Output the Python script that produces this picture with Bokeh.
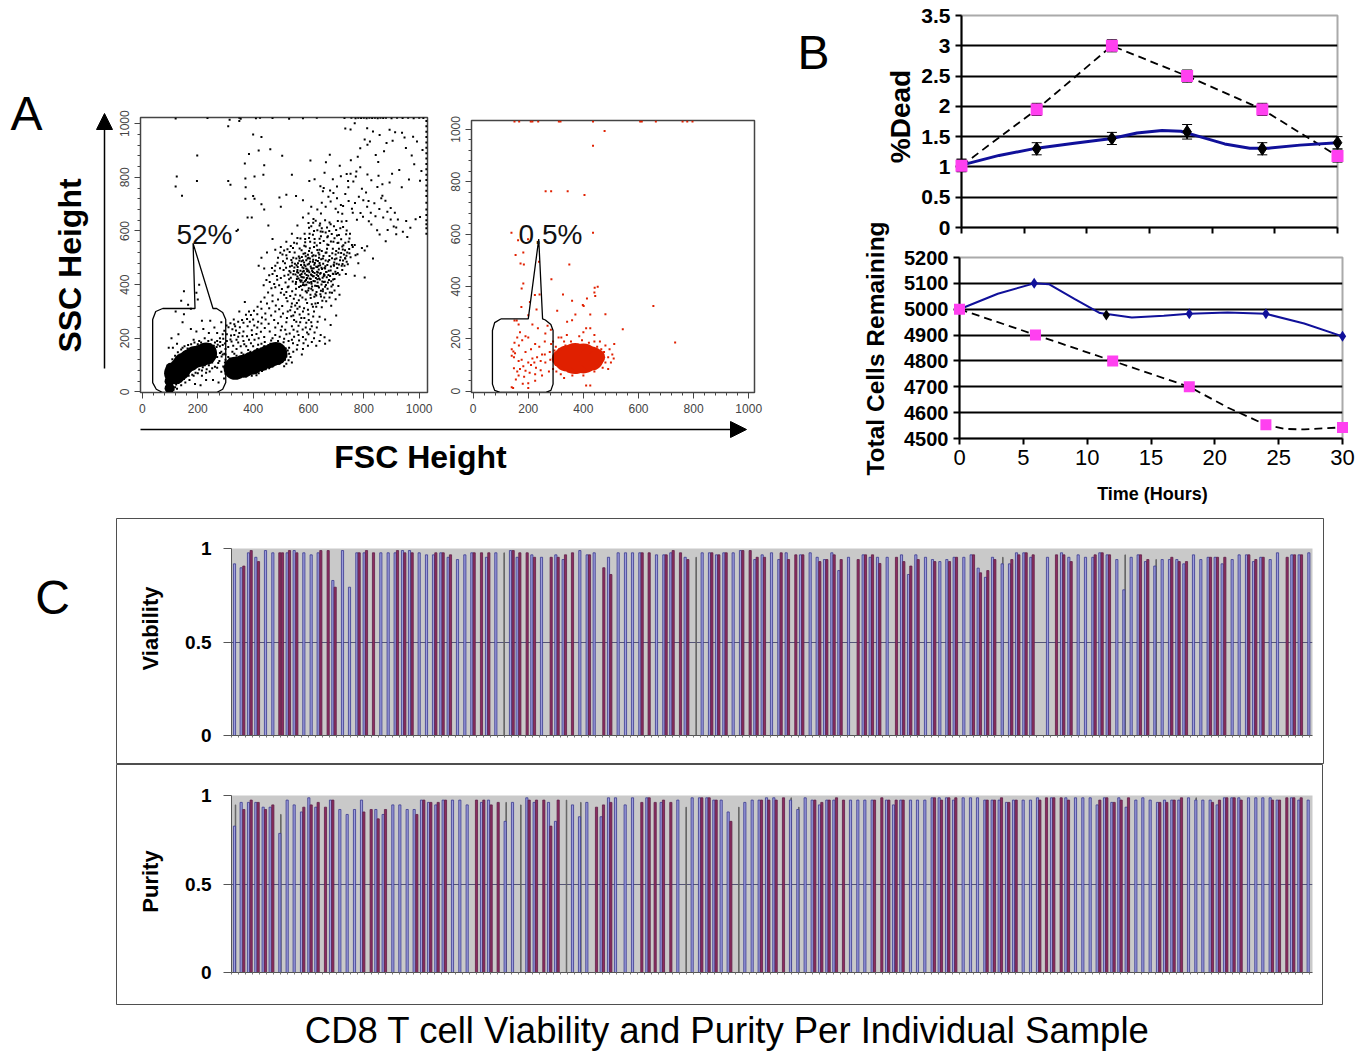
from math import pi
from bokeh.embed import file_html
from bokeh.resources import INLINE
from bokeh.plotting import figure
from bokeh.layouts import column
from bokeh.models import Range1d, Label, Arrow, NormalHead, FixedTicker, Whisker, ColumnDataSource

# ---------- Panel A data: (FSC, SSC) events ----------
black_dense_small = [(98,14),(98,40),(100,66),(102,90)]
black_dense_a = [(118,70),(135,85),(150,105),(170,118),(190,130),(210,135),(230,143)]
black_dense_b = [(335,88),(365,96),(395,107),(425,120),(455,132),(482,143)]
black_top = [(120,1019),(235,1021),(315,1015),(350,1022),(355,1018),(410,1020),(425,1022),(470,1021),(530,1018),(580,1020),(630,1022),(730,1021),(755,1022),(770,1020),(780,1022),(790,1021),(800,1022),(810,1020),(820,1022),(830,1021),(840,1022),(850,1020),(860,1022),(870,1021),(880,1022),(900,1020),(920,1022),(940,1021),(960,1022),(980,1020),(1000,1022),(1015,1021)]
black_right = [(1026,1010),(1026,990),(1026,970),(1026,950),(1026,930),(1026,910),(1026,890),(1026,870),(1026,850),(1026,830),(1026,810),(1026,790),(1026,770),(1026,750),(1026,730),(1026,705),(1026,680),(1026,660),(1026,640),(1026,625),(1026,610),(1026,590)]
black_spray = [(198,881),(124,803),(120,766),(143,731),(197,786),(310,786),(318,772),(370,852),(385,887),(420,900),(405,803),(437,810),(372,796),(373,763),(405,720),(430,700),(372,720),(380,650),(395,650),(440,680),(495,725),(520,735),(555,730),(580,715),(610,690),(455,620),(470,570),(500,690),(340,600),(345,605),(400,730),(440,845),(462,905),(505,880),(540,810),(430,950),(400,960),(350,1010),(310,990),(703,722),(717,697),(733,738),(744,763),(762,784),(771,803),(793,757),(808,743),(817,712),(838,703),(849,764),(867,731),(878,713),(897,686),(912,668),(923,643),(941,597),(957,578),(968,612),(987,644),(1003,652),(722,664),(737,637),(757,683),(768,704),(788,667),(797,653),(818,636),(827,624),(848,603),(857,587),(879,562),(886,604),(908,617),(917,588),(713,843),(738,812),(753,864),(778,877),(787,908),(813,921),(822,934),(843,883),(852,857),(873,897),(882,928),(904,936),(913,968),(938,966),(952,909),(973,881),(982,849),(1003,787),(1008,824),(963,792),(937,763),(928,827),(902,813),(893,781),(867,774),(853,806),(827,789),(813,811),(787,838),(773,822),(752,813),(743,786),(717,804),(703,766),(688,793),(678,751),(652,748),(643,767),(622,793),(658,817),(677,884),(663,856),(607,863),(603,786),(1012,902),(992,934),(978,951),(947,948),(893,977),(857,958),(833,971),(812,983),(803,941),(752,978),(733,982),(767,1002),(767,548),(793,537),(803,527),(812,543),(833,497),(767,433),(803,427),(757,548),(748,517),(732,498),(723,477),(777,513),(863,722),(897,643),(953,637),(917,613),(655,760),(672,728),(690,742),(648,705),(662,690),(680,710),(698,683),(707,670),(725,693),(745,712),(760,668),(775,642),(782,728),(798,715),(812,690),(825,668),(842,655),(856,682),(870,650),(885,672),(645,665),(632,680),(618,645),(600,665)]
black_c3 = [(470,440),(480,470),(490,500),(500,425),(510,455),(515,480),(520,510),(525,390),(530,420),(535,445),(540,470),(545,500),(550,520),(555,385),(555,410),(560,430),(560,455),(562,480),(565,505),(568,535),(570,360),(572,395),(575,415),(575,440),(578,465),(580,490),(582,515),(585,545),(588,570),(590,345),(590,375),(592,400),(595,425),(595,450),(597,475),(600,500),(602,525),(604,590),(606,560),(608,350),(610,385),(610,410),(612,435),(614,460),(616,485),(618,510),(620,540),(622,570),(625,330),(628,360),(630,395),(632,420),(634,445),(636,470),(638,500),(640,530),(642,555),(645,580),(648,610),(650,340),(652,375),(655,410),(658,435),(660,460),(662,490),(665,520),(668,550),(670,580),(675,600),(680,625),(685,370),(688,400),(690,440),(692,470),(695,495),(700,525),(705,555),(710,585),(715,610),(720,635),(725,490),(730,470),(735,440),(740,520),(745,560),(750,590),(760,540),(770,510),(780,480),(700,440),(710,475),(690,560),(660,640),(640,620),(620,600),(600,630),(580,650),(560,620),(540,590),(520,560),(500,540),(480,530),(450,520),(430,500),(420,470),(440,460),(460,410),(480,390),(500,370),(520,350),(540,330),(560,310),(580,300),(600,290),(620,300),(640,280),(660,270),(680,250),(700,285),(545,285),(525,300),(505,320),(490,345),(470,360),(450,330),(430,310),(415,290),(400,270),(385,300),(370,335),(350,300),(330,270),(520,260),(540,245),(560,225),(580,205),(600,215),(620,200),(640,190),(660,180),(570,260),(590,240),(610,260),(630,240),(500,280),(480,300),(465,285),(445,270),(430,255),(415,240),(395,230),(380,245),(365,225),(350,220),(335,245),(320,210),(305,215),(500,230),(520,215),(540,195),(560,175),(580,160),(480,240),(460,225),(440,205),(420,200),(405,195),(385,195),(365,190),(470,200),(490,190),(510,185),(530,165),(545,150),(520,140),(340,195),(355,170),(375,170),(400,170),(430,180),(455,175)]
black_core = [(527,437),(533,468),(538,492),(543,412),(547,451),(551,478),(553,438),(556,497),(558,421),(561,466),(563,444),(566,391),(567,489),(569,416),(571,452),(573,473),(574,429),(576,503),(577,381),(579,448),(581,407),(582,461),(583,427),(584,483),(586,398),(587,442),(588,517),(589,469),(591,417),(592,491),(593,436),(594,371),(596,456),(597,409),(598,511),(599,433),(601,387),(602,478),(603,446),(604,423),(605,497),(607,362),(608,468),(609,438),(611,403),(612,519),(613,452),(615,379),(616,431),(617,493),(618,414),(619,461),(621,355),(622,443),(623,481),(624,396),(626,508),(627,425),(628,467),(629,373),(631,448),(632,529),(633,408),(634,488),(635,432),(637,456),(638,389),(639,512),(641,419),(642,472),(643,364),(644,443),(646,495),(647,401),(648,525),(649,458),(651,426),(652,383),(653,478),(654,507),(656,439),(657,352),(659,411),(661,469),(663,399),(664,447),(666,428),(667,534),(669,385),(671,486),(673,452),(674,417),(676,507),(678,432),(681,468),(683,393),(686,517),(689,419),(693,483),(697,448),(701,497),(704,462),(708,519),(712,437),(716,502),(720,470),(724,531),(728,512),(733,497),(738,485),(575,528),(590,542),(605,536),(622,556),(640,571),(655,563),(672,548),(688,534),(703,583),(718,569),(733,556),(586,590),(602,612),(617,631),(632,603),(651,597),(667,613),(684,589),(700,604),(513,433),(519,463),(508,487),(497,461),(506,512),(522,497),(532,522),(544,537),(558,553),(571,572),(517,408),(528,393),(541,375),(553,362),(565,342),(578,352),(595,332),(612,327),(628,318),(645,356),(662,368),(676,352),(694,378),(708,395),(520,373),(534,358),(547,347),(558,332),(534,305),(551,297),(568,289),(585,276),(601,268),(617,281),(633,262),(548,268),(564,247),(579,233),(595,222),(612,245),(487,418),(476,402),(466,387),(454,371),(441,352),(428,336),(416,318),(403,303),(392,287),(378,272),(365,258),(352,241),(338,229),(325,234),(311,241),(296,228)]
black_core2 = [(531,451),(536,426),(541,483),(545,439),(549,464),(554,402),(557,472),(559,447),(564,423),(568,498),(570,436),(572,411),(575,487),(578,428),(580,399),(583,451),(585,473),(587,413),(590,506),(592,459),(594,424),(597,497),(599,378),(600,452),(603,407),(606,485),(608,421),(610,461),(613,393),(614,506),(616,447),(619,431),(621,474),(623,413),(625,364),(627,491),(630,437),(632,466),(635,394),(636,519),(638,423),(640,481),(642,441),(645,377),(647,463),(650,412),(652,497),(655,431),(658,462),(660,392),(662,519),(665,447),(668,473),(670,408),(672,436),(675,492),(677,371),(680,453),(682,413),(685,498),(688,441),(691,474),(694,421),(698,512),(702,478),(706,443),(710,534),(714,491),(718,518),(722,455),(726,547),(732,528),(737,508),(742,476),(747,533),(752,502),(668,577),(681,561),(694,573),(708,556),(722,542),(736,588),(748,572),(662,594),(676,632),(692,618),(706,637),(725,615),(738,602),(588,558),(602,574),(616,586),(630,546),(644,598),(610,618),(626,638),(642,628),(560,574),(548,556),(536,544),(524,532),(512,527),(498,519),(488,482),(478,452),(468,462),(458,435),(448,417),(438,398),(486,432),(494,398),(504,384),(512,362),(524,338),(538,318),(552,322),(568,318),(584,312),(598,306),(616,318),(634,332),(648,316),(664,338),(682,321),(698,346),(712,362),(538,282),(522,276),(508,292),(494,308),(482,322),(470,338),(458,312),(444,292),(432,278),(418,262),(404,248),(388,262),(374,288),(360,268),(346,262),(332,252),(318,256),(304,248),(516,232),(532,218),(548,206),(566,192),(582,182),(598,172),(612,186),(628,172),(476,268),(490,256),(504,244),(456,254),(442,238),(428,224),(412,216),(396,212),(378,208),(362,208),(346,206),(332,212),(318,196),(480,212),(496,206),(512,198),(528,190),(544,182),(558,158),(576,140),(590,196),(564,212),(546,232),(574,276),(556,262),(592,258),(606,234),(622,222),(644,212),(658,204),(676,192)]
black_gate = [(150,375),(140,340),(165,325),(175,310),(205,400),(200,345),(195,370),(215,265),(245,265),(260,240),(240,220),(270,220),(285,260),(150,290),(120,300),(145,260),(175,235),(195,225),(220,235),(130,215),(105,200),(95,165),(110,165),(125,180),(145,165),(165,175),(185,195),(205,190),(225,200),(250,195),(270,190),(290,175),(300,160),(285,150),(270,130),(262,160),(278,115),(292,95),(285,75),(270,90),(252,110),(240,100),(232,85),(215,80),(200,70),(185,60),(170,45),(155,35),(140,25),(125,12),(190,30),(210,25),(230,45),(255,45),(275,35),(295,50),(215,60),(300,120),(310,130),(325,150),(340,160),(355,55),(375,58),(395,60),(420,70),(445,85),(470,95),(495,105),(515,120),(510,150),(495,165),(470,175),(440,170),(415,160),(390,150),(365,140),(340,135),(315,125),(305,75),(325,60),(345,65),(520,105),(535,130),(525,155),(200,130),(215,115),(225,100),(160,130),(130,120),(115,110),(540,110),(290,215),(305,190),(280,200),(170,155),(150,145),(250,150),(265,145),(280,170),(108,122),(118,135),(128,148),(140,158),(152,170),(163,162),(176,178),(188,184),(200,178),(212,184),(224,176),(238,190),(246,178),(258,172),(268,168),(281,186),(292,198),(298,181),(272,176),(262,184),(286,132),(296,142),(274,108),(262,94),(252,88),(243,76),(230,72),(218,92),(205,84),(192,72),(180,64),(167,60),(150,48),(138,40),(122,28),(112,8),(118,18),(130,33),(300,68),(312,82),(320,68),(333,58),(348,52),(362,62),(384,68),(403,72),(412,62),(432,78),(458,88),(482,102),(505,112),(528,118),(520,132),(512,96),(530,142),(518,162),(502,172),(482,168),(462,180),(448,166),(428,162),(408,152),(382,156),(358,146),(332,142),(312,112),(304,100),(296,92),(300,140),(328,172),(346,184),(368,178),(392,182),(418,176),(442,186),(465,192),(488,178),(298,110),(310,168),(322,188),(290,140),(280,145)]
red_dense = [(318,125),(340,125),(370,125),(400,125),(430,125),(450,130)]
red_dense_size = [18, 26, 31, 30, 24, 16]
red_top = [(150,1030),(167,1030),(209,1030),(215,1030),(236,1030),(311,1030),(317,1030),(435,1030),(606,1030),(612,1030),(663,1030),(760,1030),(777,1030),(796,1030)]
red_spread = [(477,994),(435,938),(263,764),(283,764),(343,764),(404,749),(139,605),(435,605),(163,577),(199,580),(154,520),(182,530),(172,488),(184,484),(239,494),(349,484),(284,428),(182,411),(176,392),(224,367),(241,369),(326,369),(359,345),(441,395),(452,399),(440,377),(443,364),(413,354),(398,329),(401,325),(654,325),(175,322),(206,341),(230,312),(305,307),(480,294),(425,293),(371,293),(359,271),(341,265),(543,237),(733,186)]
red_gate = [(150,270),(158,270),(165,255),(200,290),(215,255),(235,240),(270,250),(282,235),(262,220),(170,225),(190,210),(160,205),(178,195),(200,205),(150,185),(166,175),(140,160),(146,152),(152,145),(148,130),(140,135),(165,115),(176,120),(190,150),(210,160),(225,180),(240,170),(260,190),(283,180),(300,170),(278,150),(250,140),(232,130),(215,125),(200,110),(182,95),(170,85),(190,78),(210,100),(228,90),(245,80),(262,110),(280,120),(295,135),(300,100),(275,75),(250,60),(225,65),(205,70),(185,55),(165,60),(155,45),(140,15),(145,12),(200,30),(200,12),(225,40),(180,28),(160,75),(148,88),(260,140),(245,115),(222,110),(295,155),(290,85),(310,205),(320,205),(340,215),(330,190),(290,190),(385,210),(400,225),(410,240),(425,240),(440,215),(395,195),(410,22),(425,22),(330,50),(360,60),(400,60),(440,75),(470,90),(490,85),(500,110),(510,125),(505,140),(495,160),(480,175),(460,190),(440,190),(420,185),(355,190),(335,175),(480,110),(470,120),(490,130),(475,150),(512,180),(450,170),(465,160),(300,140),(312,160),(302,75),(318,65),(345,75),(375,70),(415,85)]

# ---------- Panel B data ----------
hours = [0, 6, 12, 18, 24, 30]
dead_control = [1.03, 1.30, 1.47, 1.58, 1.30, 1.40]
dead_control_err = [0.10, 0.10, 0.10, 0.12, 0.10, 0.10]
dead_treated = [1.02, 1.95, 3.0, 2.5, 1.95, 1.18]
dead_treated_err = [0.10, 0.10, 0.10, 0.10, 0.10, 0.10]
dead_control_curve_x = [0, 3, 6, 9, 12, 14, 16, 17.5, 19, 21, 23, 24.5, 27, 30]
dead_control_curve_y = [1.03, 1.19, 1.31, 1.39, 1.47, 1.56, 1.60, 1.59, 1.50, 1.38, 1.31, 1.31, 1.36, 1.40]
dead_ticks = [0, 0.5, 1, 1.5, 2, 2.5, 3, 3.5]
dead_labels = ["0", "0.5", "1", "1.5", "2", "2.5", "3", "3.5"]
cells_control_x = [0, 5.85, 11.5, 18, 24, 30]
cells_control = [5000, 5100, 4978, 4982, 4982, 4895]
cells_treated_x = [0, 5.95, 12, 18, 24, 30]
cells_treated = [5000, 4900, 4800, 4700, 4553, 4543]
cells_control_curve_x = [0, 3, 5.85, 7, 9, 11, 13.5, 16, 18, 21, 24, 27, 30]
cells_control_curve_y = [5000, 5060, 5100, 5097, 5040, 4985, 4968, 4975, 4982, 4987, 4982, 4945, 4895]
cells_treated_curve_x = [0, 6, 12, 18, 21, 24, 25.5, 27, 30]
cells_treated_curve_y = [5000, 4900, 4800, 4700, 4620, 4553, 4537, 4535, 4543]
cells_ticks = [4500, 4600, 4700, 4800, 4900, 5000, 5100, 5200]
hour_ticks = [0, 5, 10, 15, 20, 25, 30]

# ---------- Panel C data: (sample position, value), four stretches of the sample axis ----------
stretch_base = [0, 810, 1620, 2460]
viab_blue = [
 [(42,.918),(62,.897),(84,.977),(106,.953),(135,.989),(157,.977),(200,.977),(221,.989),(250,.977),(272,.966),(293,.977),(337,.829),(366,.989),(387,.793),(409,.977),(431,.977),(481,.977),(503,.977),(524,.977),(546,.989),(567,.989),(596,.977),(618,.966),(639,.966),(661,.977),(683,.953),(711,.941),(733,.966),(754,.977),(798,.953),(826,.977)],
 [(60,.989),(80,.953),(124,.966),(153,.953),(196,.966),(218,.941),(268,.989),(290,.966),(311,.977),(354,.953),(383,.977),(405,.977),(426,.977),(448,.977),(498,.966),(520,.966),(541,.977),(584,.953),(635,.977),(657,.977),(678,.966),(700,.977),(728,.977),(750,.989),(793,.941)],
 [(5,.966),(33,.977),(55,.941),(77,.977),(120,.966),(149,.977),(170,.953),(192,.941),(214,.977),(235,.882),(264,.953),(308,.966),(329,.953),(351,.953),(380,.953),(423,.966),(444,.861),(466,.966),(495,.953),(516,.941),(538,.93),(559,.941),(581,.953),(610,.953),(632,.966),(653,.895),(675,.846),(696,.953),(725,.918),(747,.918),(768,.977),(790,.977),(811,.953)],
 [(21,.953),(63,.977),(85,.953),(113,.966),(135,.953),(157,.953),(178,.977),(200,.966),(229,.941),(250,.779),(272,.953),(293,.966),(315,.93),(343,.906),(365,.941),(387,.941),(409,.941),(430,.918),(459,.966),(481,.941),(503,.953),(524,.953),(545,.918),(575,.941),(596,.966),(618,.966),(639,.93),(661,.953),(689,.941),(711,.977),(754,.966),(776,.966),(805,.977)],
]
viab_red = [
 [(70,.906),(92,.989),(114,.93),(178,.977),(186,.977),(207,.989),(229,.977),(301,.989),(323,.989),(344,.793),(416,.977),(438,.989),(459,.977),(531,.989),(553,.977),(575,.977),(646,.977),(668,.977),(690,.966),(761,.977),(783,.977),(805,.977)],
 [(68,.989),(88,.977),(110,.977),(132,.953),(182,.953),(203,.953),(225,.966),(246,.977),(297,.966),(340,.897),(361,.861),(455,.977),(476,.977),(527,.966),(548,.989),(570,.977),(592,.941),(664,.977),(685,.966),(707,.977),(757,.989),(779,.989),(800,.953)],
 [(12,.953),(62,.977),(84,.941),(106,.966),(127,.966),(178,.93),(199,.941),(221,.966),(242,.941),(293,.941),(315,.966),(336,.966),(358,.92),(408,.953),(430,.93),(451,.906),(473,.941),(523,.93),(567,.93),(588,.953),(639,.966),(660,.87),(682,.882),(703,.941),(754,.941),(775,.966),(797,.977),(818,.966)],
 [(48,.966),(70,.966),(92,.93),(164,.966),(185,.977),(207,.966),(300,.966),(322,.941),(394,.953),(416,.93),(438,.93),(510,.953),(531,.953),(553,.953),(625,.966),(646,.941),(668,.953),(740,.953),(762,.966),(783,.966)],
]
viab_thin = [[], [(41,.977),(617,.953)], [(727,.953)], [(254,.966),(347,.941)]]
pur_blue = [
 [(42,.827),(62,.961),(84,.961),(106,.961),(128,.934),(149,.934),(178,.786),(200,.974),(221,.947),(243,.907),(265,.987),(286,.934),(330,.974),(358,.921),(380,.893),(402,.921),(423,.974),(466,.921),(488,.893),(517,.947),(538,.947),(560,.921),(581,.921),(603,.974),(624,.961),(646,.947),(668,.974),(696,.974),(718,.974),(740,.947),(783,.961),(804,.974)],
 [(44,.854),(66,.961),(109,.987),(131,.961),(174,.961),(195,.854),(246,.947),(267,.88),(289,.961),(332,.88),(354,.987),(375,.987),(404,.947),(426,.987),(469,.987),(512,.961),(562,.974),(605,.987),(627,.987),(649,.987),(670,.974),(692,.974),(713,.907),(763,.961),(785,.974),(806,.974)],
 [(18,.987),(40,.987),(90,.974),(112,.921),(134,.987),(155,.974),(177,.947),(199,.974),(220,.974),(270,.974),(292,.974),(313,.974),(335,.974),(378,.974),(399,.947),(421,.974),(450,.974),(471,.974),(493,.974),(515,.987),(536,.987),(558,.987),(579,.974),(608,.987),(630,.987),(651,.987),(673,.974),(695,.974),(716,.974),(738,.961),(759,.974),(788,.974),(810,.974),(831,.987)],
 [(33,.987),(76,.987),(105,.987),(127,.987),(149,.987),(170,.947),(192,.987),(214,.961),(235,.987),(257,.934),(286,.974),(307,.987),(329,.974),(351,.961),(372,.974),(394,.974),(415,.974),(444,.987),(466,.974),(487,.974),(509,.974),(530,.947),(552,.987),(574,.987),(595,.987),(624,.987),(646,.987),(667,.987),(689,.987),(710,.974),(753,.987),(775,.974),(803,.974)],
]
pur_red = [
 [(70,.921),(92,.974),(113,.961),(135,.921),(157,.947),(250,.934),(272,.947),(293,.961),(315,.934),(337,.974),(430,.907),(452,.921),(473,.868),(495,.921),(589,.893),(610,.974),(631,.961),(653,.961),(675,.974),(768,.974),(790,.974),(812,.947),(833,.961)],
 [(116,.974),(138,.974),(160,.974),(181,.827),(203,.974),(318,.934),(339,.947),(361,.961),(454,.961),(476,.987),(494,.961),(519,.974),(541,.961),(634,.987),(656,.987),(677,.974),(721,.854),(813,.974),(835,.974)],
 [(47,.974),(69,.987),(163,.974),(184,.961),(206,.974),(228,.987),(249,.974),(342,.974),(364,.987),(385,.974),(407,.974),(428,.974),(522,.987),(543,.974),(565,.987),(586,.987),(680,.974),(702,.974),(723,.987),(745,.961),(767,.974),(838,.974)],
 [(18,.987),(40,.987),(62,.987),(84,.974),(178,.974),(199,.987),(221,.961),(242,.974),(264,.987),(358,.961),(379,.961),(401,.974),(423,.987),(516,.961),(537,.974),(559,.987),(581,.987),(602,.974),(696,.974),(717,.974),(739,.987),(760,.987),(782,.987)],
]
pur_thin = [[(45,.947),(181,.893)], [(47,.961),(91,.947),(228,.974),(271,.961),(587,.934),(745,.934)], [(115,.934),(92,.987)], [(467,.987)]]

# ---------- Texts ----------
panel_letters = [("A", 26, 113), ("B", 813, 52), ("C", 52, 597)]
title_c = "CD8 T cell Viability and Purity Per Individual Sample"

FONT = "Liberation Sans"
# Sibling plots in a column share the same border sizes, so every frame uses these.
ML, MR, MT, MB = 70, 20, 12, 40
PAGE_W, PAGE_H = 1356, 1043
children = []

def place(fig, left, top):
    fig.styles = {"position": "absolute", "left": f"{left}px", "top": f"{top}px"}
    children.append(fig)

def panel(l, t, r, b, xr, yr):
    p = figure(frame_width=r - l, frame_height=b - t, x_range=Range1d(*xr), y_range=Range1d(*yr),
               min_border_left=ML, min_border_right=MR, min_border_top=MT, min_border_bottom=MB,
               output_backend="svg", toolbar_location=None)
    p.border_fill_color = None
    p.background_fill_color = None
    p.xgrid.visible = False
    p.ygrid.visible = False
    place(p, l - ML, t - MT)
    return p

def overlay(l, t, r, b, xr, yr, pad=14):
    """A bare plot sharing the scale of the frame l,t,r,b but larger by pad pixels, so markers at the frame's edge stay whole."""
    dx = (xr[1] - xr[0]) / (r - l) * pad
    dy = (yr[1] - yr[0]) / (b - t) * pad
    p = panel(l - pad, t - pad, r + pad, b + pad, (xr[0] - dx, xr[1] + dx), (yr[0] - dy, yr[1] + dy))
    p.axis.visible = False
    p.outline_line_color = None
    return p

def xy(pts):
    return [a for a, _ in pts], [b for _, b in pts]

# ---------- Page canvas: a plain plot whose frame is mapped one to one onto page pixels ----------
canvas = figure(frame_width=PAGE_W, frame_height=PAGE_H, x_range=Range1d(8, 8 + PAGE_W), y_range=Range1d(8 + PAGE_H, 8),
                min_border=0, output_backend="svg", toolbar_location=None)
canvas.axis.visible = False
canvas.grid.visible = False
canvas.outline_line_color = None
canvas.border_fill_color = None
canvas.background_fill_color = None
canvas.styles = {"position": "absolute", "left": "8px", "top": "8px"}

def label(text, x, y, size, bold=False, angle=0, color="black", align="center"):
    canvas.add_layout(Label(x=x, y=y, text=text, text_font=FONT, text_font_size=f"{size}px",
                            text_font_style="bold" if bold else "normal", angle=angle, text_align=align,
                            text_baseline="middle", text_color=color))

for t, x, y in panel_letters:
    label(t, x, y, 48)
label("SSC Height", 69, 265, 32, True, pi / 2)
label("FSC Height", 420, 456, 32, True)
label("%Dead", 900, 116, 28, True, pi / 2)
label("Total Cells Remaining", 875, 348, 24.5, True, pi / 2)
label("Time (Hours)", 1152, 493, 18, True)
label("Viability", 150, 628, 22, True, pi / 2)
label("Purity", 150, 881, 22, True, pi / 2)
label(title_c, 727, 1030, 36.5)

canvas.add_layout(Arrow(end=NormalHead(size=16, fill_color="black", line_color="black"), x_start=104, y_start=368, x_end=104, y_end=113, line_width=1.5))
canvas.add_layout(Arrow(end=NormalHead(size=16, fill_color="black", line_color="black"), x_start=140, y_start=429, x_end=746, y_end=429, line_width=1.5))
canvas.quad(left=[116, 116], right=[1323, 1322], top=[518, 764], bottom=[763, 1004], fill_color=None, line_color="#222222", line_width=0.8)

# ---------- Panel A ----------
def style_scatter(p):
    p.outline_line_color = "#444444"
    p.outline_line_width = 1.5
    for ax, ticks in ((p.xaxis, list(range(0, 1001, 200))), (p.yaxis, list(range(0, 1001, 200)))):
        ax.ticker = FixedTicker(ticks=ticks, minor_ticks=list(range(0, 1001, 40)))
        ax.axis_line_color = "#444444"
        ax.major_tick_line_color = "#444444"
        ax.minor_tick_line_color = "#444444"
        ax.major_tick_in = 0
        ax.major_tick_out = 6
        ax.minor_tick_in = 0
        ax.minor_tick_out = 3
        ax.major_label_text_font = FONT
        ax.major_label_text_font_size = "12px"
        ax.major_label_text_color = "#444444"
    p.yaxis.major_label_orientation = "vertical"

pa = panel(140, 117, 427, 392, (-7, 1030), (-2, 1023))
style_scatter(pa)
for pts in (black_top, black_right, black_spray, black_c3, black_core, black_core2, black_gate):
    x, y = xy(pts)
    pa.scatter(x, y, size=2.0, marker="square", color="black", line_color=None)
x, y = xy(black_dense_small)
pa.scatter(x, y, size=10, color="black", line_color=None)
x, y = xy(black_dense_a)
pa.scatter(x, y, size=22, color="black", line_color=None)
x, y = xy(black_dense_b)
pa.scatter(x, y, size=23, color="black", line_color=None)
gate_a_x = [73, 190, 183, 255, 268, 290, 301, 301, 290, 268, 73, 50, 37, 37, 48, 73]
gate_a_y = [311, 311, 554, 311, 311, 296, 270, 35, 10, -2, -2, 10, 35, 270, 300, 311]
pa.line(gate_a_x, gate_a_y, color="black", line_width=1.3)
pa.text([123], [588], text=["52%"], text_font=dict(value=FONT), text_font_size="28px", text_baseline="middle", text_color="#111111")

pb = panel(471, 120, 754, 392, (-6, 1021), (-5, 1034))
style_scatter(pb)
for pts in (red_top, red_spread, red_gate):
    x, y = xy(pts)
    pb.scatter(x, y, size=2.0, marker="square", color="#E02000", line_color=None)
x, y = xy(red_dense)
pb.scatter(x, y, size=red_dense_size, color="#E02000", line_color=None)
gate_b_x = [100, 200, 238, 252, 262, 282, 290, 290, 282, 262, 100, 78, 70, 70, 78, 100]
gate_b_y = [276, 276, 581, 276, 272, 255, 232, 27, 3, -5, -5, 3, 27, 232, 262, 276]
pb.line(gate_b_x, gate_b_y, color="black", line_width=1.3)
pb.text([165], [600], text=["0.5%"], text_font=dict(value=FONT), text_font_size="28px", text_baseline="middle", text_color="#111111")

# ---------- Panel B ----------
def style_line_chart(p, yticks, overrides, show_x, y_size):
    p.outline_line_color = "#AAAAAA"
    p.outline_line_width = 2
    p.ygrid.visible = True
    p.ygrid.ticker = FixedTicker(ticks=yticks)
    p.ygrid.grid_line_color = "black"
    p.ygrid.grid_line_width = 2
    p.yaxis.ticker = FixedTicker(ticks=yticks)
    p.yaxis.major_label_overrides = overrides
    p.yaxis.major_label_text_font = FONT
    p.yaxis.major_label_text_font_size = y_size
    p.yaxis.major_label_text_font_style = "bold"
    p.yaxis.major_label_text_color = "black"
    if show_x:
        p.xaxis.ticker = FixedTicker(ticks=hour_ticks)
        p.xaxis.major_label_text_font = FONT
        p.xaxis.major_label_text_font_size = "22px"
        p.xaxis.major_label_text_color = "black"
    else:
        p.xaxis.ticker = FixedTicker(ticks=[], minor_ticks=hour_ticks)
    for ax in (p.xaxis, p.yaxis):
        ax.axis_line_color = "black"
        ax.axis_line_width = 2
        ax.major_tick_line_color = "black"
        ax.major_tick_line_width = 2
        ax.major_tick_in = 0
        ax.major_tick_out = 6
        if show_x or ax is p.yaxis:
            ax.minor_tick_line_color = None
        else:
            ax.minor_tick_line_color = "black"
            ax.minor_tick_line_width = 2
            ax.minor_tick_in = 0
            ax.minor_tick_out = 6

pc = panel(961, 15, 1337, 227, (0, 30), (0, 3.5))
style_line_chart(pc, dead_ticks, {t: l for t, l in zip(dead_ticks, dead_labels)}, False, "21px")
pc2 = overlay(961, 15, 1337, 227, (0, 30), (0, 3.5))
pc2.line(hours, dead_treated, color="black", line_width=1.8, line_dash="8 5")
pc2.line(dead_control_curve_x, dead_control_curve_y, color="#10109A", line_width=3)
for vals, errs in ((dead_control, dead_control_err), (dead_treated, dead_treated_err)):
    src = ColumnDataSource(dict(x=hours, lo=[v - e for v, e in zip(vals, errs)], hi=[v + e for v, e in zip(vals, errs)]))
    w = Whisker(base="x", lower="lo", upper="hi", source=src, line_color="black", line_width=1.5)
    w.upper_head.size = 10
    w.lower_head.size = 10
    w.upper_head.line_color = "black"
    w.lower_head.line_color = "black"
    pc2.add_layout(w)
pc2.scatter(hours, dead_control, marker="diamond", size=13, color="black")
pc2.scatter(hours, dead_treated, marker="square", size=12, color="#FF40F0", line_color=None)

pd_ = panel(959, 257, 1342, 438, (0, 30), (4500, 5200))
style_line_chart(pd_, cells_ticks, {t: str(t) for t in cells_ticks}, True, "20px")
pd2 = overlay(959, 257, 1342, 438, (0, 30), (4500, 5200))
pd2.line(cells_treated_curve_x, cells_treated_curve_y, color="black", line_width=1.8, line_dash="8 5")
pd2.line(cells_control_curve_x, cells_control_curve_y, color="#10109A", line_width=2)
pd2.scatter(cells_control_x, cells_control, marker="diamond", size=11, color=["#10109A", "#10109A", "black", "#10109A", "#10109A", "#10109A"], line_color=None)
pd2.scatter(cells_treated_x, cells_treated, marker="square", size=11, color="#FF40F0", line_color=None)

# ---------- Panel C ----------
def flatten(stretches):
    out = []
    for base, seg in zip(stretch_base, stretches):
        out.extend((base + a, b) for a, b in seg)
    return out

def bars(l, t, r, b, blue, red, thin):
    p = panel(l, t, r, b, (33, 3276), (0, 1))
    p.background_fill_color = "#C9C9C9"
    p.outline_line_color = None
    p.ygrid.visible = True
    p.ygrid.ticker = FixedTicker(ticks=[0.5])
    p.ygrid.grid_line_color = "#555577"
    p.ygrid.grid_line_width = 1
    p.yaxis.ticker = FixedTicker(ticks=[0, 0.5, 1])
    p.yaxis.major_label_overrides = {0: "0", 0.5: "0.5", 1: "1"}
    p.yaxis.major_label_text_font = FONT
    p.yaxis.major_label_text_font_size = "19px"
    p.yaxis.major_label_text_font_style = "bold"
    p.yaxis.major_label_text_color = "black"
    p.yaxis.major_label_standoff = 12
    p.yaxis.axis_line_color = "#555555"
    p.yaxis.major_tick_line_color = "#555555"
    p.yaxis.major_tick_in = 0
    p.yaxis.major_tick_out = 8
    p.yaxis.minor_tick_line_color = None
    p.xaxis.ticker = FixedTicker(ticks=[], minor_ticks=list(range(33, 3276, 21)))
    p.xaxis.axis_line_color = "#555555"
    p.xaxis.minor_tick_line_color = "#777777"
    p.xaxis.minor_tick_in = 0
    p.xaxis.minor_tick_out = 2
    x, y = xy(flatten(thin))
    p.vbar(x=x, top=y, width=1.5, color="#666666")
    x, y = xy(flatten(blue))
    p.vbar(x=x, top=y, width=6.5, fill_color="#9C9CDC", line_color="#38388E", line_width=0.8)
    x, y = xy(flatten(red))
    p.vbar(x=x, top=y, width=6.5, fill_color="#8C2C60", line_color="#5E2148", line_width=0.8)
    return p

bars(231, 548, 1312, 735, viab_blue, viab_red, viab_thin)
bars(231, 795, 1312, 972, pur_blue, pur_red, pur_thin)

inner = column(*children, width=PAGE_W, height=PAGE_H, styles={"position": "absolute", "left": "0px", "top": "0px"})
root = column(canvas, inner, width=PAGE_W, height=PAGE_H)
open("out.html", "w").write(file_html(root, INLINE))
